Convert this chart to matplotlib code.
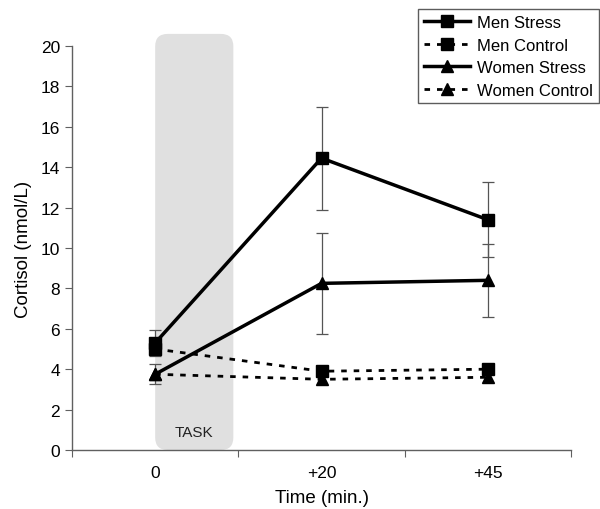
import matplotlib.pyplot as plt
from matplotlib.patches import FancyBboxPatch

plt.rcParams['font.family'] = ['Liberation Sans', 'DejaVu Sans']

# data
times = ['0', '+20', '+45']
men_stress = [5.3, 14.45, 11.4]
men_stress_err = [0.65, 2.55, 1.85]
men_control = [5.0, 3.9, 4.0]
women_stress = [3.75, 8.25, 8.4]
women_stress_err = [0.5, 2.5, 1.8]
women_control = [3.75, 3.5, 3.6]

x = [i + 0.5 for i in range(len(times))]

fig = plt.figure(figsize=(6, 5.1), dpi=100)
ax = fig.add_axes([0.12, 0.1157, 0.8317, 0.7921])

# task shading
task = FancyBboxPatch((0.5, 0), 0.47, 20.6,
                      boxstyle='round,pad=0,rounding_size=0.075',
                      mutation_aspect=8.2, facecolor='#e0e0e0',
                      edgecolor='none', clip_on=False, zorder=0)
ax.add_patch(task)
ax.text(0.735, 0.9, 'TASK', ha='center', va='center', fontsize=11,
        color='#222222')

ekw = dict(ecolor='#555555', elinewidth=0.9, capsize=4, capthick=0.9)
ax.errorbar(x, men_stress, yerr=men_stress_err, fmt='none', zorder=2, **ekw)
ax.errorbar(x, women_stress, yerr=women_stress_err, fmt='none', zorder=2, **ekw)

ax.plot(x, men_control, color='black', lw=2, ls=(0, (2, 2.5)),
        marker='s', ms=8, label='Men Control', zorder=3)
ax.plot(x, women_control, color='black', lw=2, ls=(0, (2, 2.5)),
        marker='^', ms=8, label='Women Control', zorder=3)
ax.plot(x, men_stress, color='black', lw=2.5, marker='s', ms=9,
        label='Men Stress', zorder=4)
ax.plot(x, women_stress, color='black', lw=2.5, marker='^', ms=9,
        label='Women Stress', zorder=4)

ax.set_xlim(0, 3)
ax.set_ylim(0, 20)
ax.set_yticks(range(0, 21, 2))
ax.set_xticks([0, 1, 2, 3])
ax.set_xticklabels([])
ax.set_xticks(x, minor=True)
ax.set_xticklabels(times, minor=True)
ax.tick_params(axis='x', which='minor', length=0, pad=11)
ax.tick_params(axis='both', which='major', length=5, color='#606060',
               labelsize=12.5, direction='out')
ax.tick_params(axis='x', which='minor', labelsize=12.5)

for s in ['top', 'right']:
    ax.spines[s].set_visible(False)
for s in ['left', 'bottom']:
    ax.spines[s].set_color('#606060')
    ax.spines[s].set_linewidth(1)

ax.set_ylabel('Cortisol (nmol/L)', fontsize=13.5, labelpad=6)
ax.set_xlabel('Time (min.)', fontsize=13.5, labelpad=6)

h, l = ax.get_legend_handles_labels()
order = [2, 0, 3, 1]
leg = ax.legend([h[i] for i in order], [l[i] for i in order],
                loc='upper right', bbox_to_anchor=(0.998, 0.98),
                bbox_transform=fig.transFigure, fontsize=12,
                frameon=True, fancybox=False, borderpad=0.35,
                labelspacing=0.45, handlelength=2.8, handletextpad=0.4,
                borderaxespad=0)
leg.get_frame().set_edgecolor('#333333')
leg.get_frame().set_linewidth(1)

fig.savefig('out.png', dpi=100)
